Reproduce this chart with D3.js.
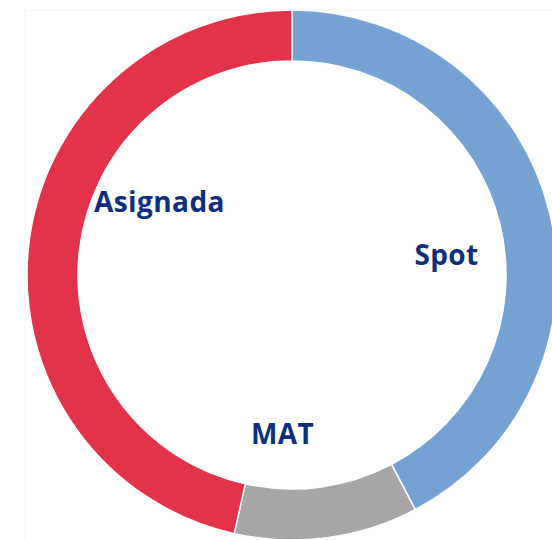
<!DOCTYPE html>
<html>
<head>
<meta charset="utf-8">
<script src="https://cdn.jsdelivr.net/npm/d3@7.9.0/dist/d3.min.js"></script>
<style>
  html, body { margin: 0; padding: 0; background: #fff; }
  svg { display: block; }
  .label { font-family: "Open Sans", sans-serif; font-weight: 700; fill: #0e2f80; letter-spacing: 0.4px; }
</style>
</head>
<body>
<svg id="chart" width="552" height="540"></svg>
<script>
// Data
const categories = ['Spot', 'MAT', 'Asignada'];
const shares = [42.3, 11.2, 46.5];
const colorsList = ['#76a2d3', '#a6a6a6', '#e3334a'];

const width = 552, height = 540;
const cx = 292, cy = 275;
const outerR = 265, innerR = 214;

// label tweaks (angle shift in degrees, radius)
const labelNudge = { Spot: [6, 156], MAT: [11, 158], Asignada: [23, 152] };

const svg = d3.select('#chart');

// faint plot frame
svg.append('rect')
  .attr('x', 25).attr('y', 10)
  .attr('width', width).attr('height', height)
  .attr('fill', 'none')
  .attr('stroke', '#f5f5f5');

const data = categories.map((c, i) => ({ label: c, value: shares[i] }));
const color = d3.scaleOrdinal().domain(categories).range(colorsList);

const pie = d3.pie().value(d => d.value).sort(null);
const arc = d3.arc().innerRadius(innerR).outerRadius(outerR);
const arcs = pie(data);

const g = svg.append('g').attr('transform', `translate(${cx},${cy})`);

g.selectAll('path')
  .data(arcs)
  .join('path')
  .attr('d', arc)
  .attr('fill', d => color(d.data.label))
  .attr('stroke', '#fff')
  .attr('stroke-width', 1.5);

g.selectAll('text')
  .data(arcs)
  .join('text')
  .attr('class', 'label')
  .attr('text-anchor', 'middle')
  .attr('dominant-baseline', 'central')
  .attr('font-size', 28)
  .attr('transform', d => {
    const [shift, r] = labelNudge[d.data.label];
    const a = (d.startAngle + d.endAngle) / 2 + shift * Math.PI / 180;
    return `translate(${r * Math.sin(a)},${-r * Math.cos(a)})`;
  })
  .text(d => d.data.label);
</script>
</body>
</html>
